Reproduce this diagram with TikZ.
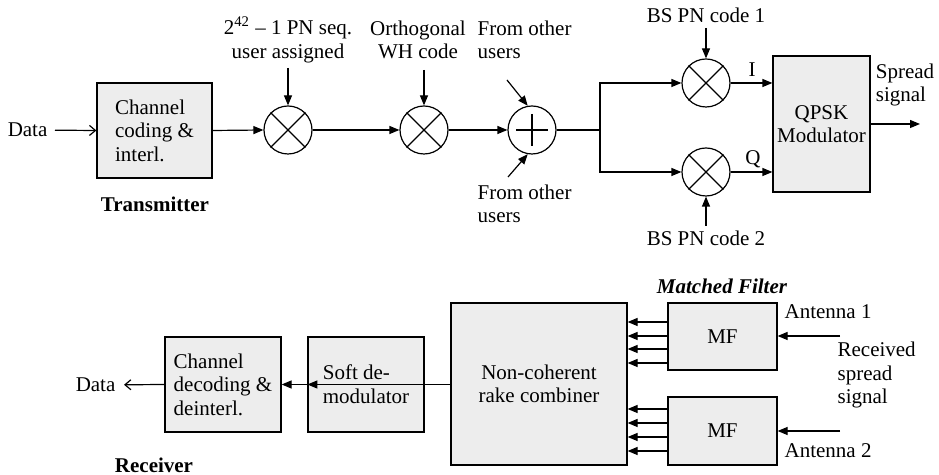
\documentclass[tikz,border=0pt]{standalone}
\usepackage{fontspec}
\setmainfont{Liberation Serif}
\usetikzlibrary{
		calc,
		positioning,
		arrows.meta
	}
\tikzset{
		>={Triangle[length=5pt,width=4pt]},
		blk/.style={draw, fill=black!7, inner sep=0pt, align=left},
		mix/.style={draw, circle, fill=white, inner sep=0pt, minimum size=24pt},
		lbl/.style={inner sep=0pt, align=left},
		opn/.style={-{Straight Barb[length=3pt,width=5pt]}}
	}
\newcommand{\lfont}{\fontsize{10.5pt}{11.8pt}\selectfont}

\begin{document}
\begin{tikzpicture}[x=0.5pt, y=-0.5pt, line width=0.6pt, font=\lfont]
		\useasboundingbox (0,0) rectangle (939,475);
		% transmitter
		\node[blk, minimum width=57.5pt, minimum height=47.5pt] (cc) at (154.5,130.5) {Channel\\coding \&\\interl.};
		\node[lbl, anchor=east, inner xsep=3.5pt] (din) at (55,130) {Data};
		\node[lbl, font=\lfont\bfseries] (tx) at (155,204) {Transmitter};
		\node[mix] (m1) at (288,130) {};
		\node[mix] (m2) at (424,130) {};
		\node[mix] (add) at (532,130) {};
		\node[mix] (mI) at (706,83) {};
		\node[mix] (mQ) at (706,172) {};
		\node[blk, align=center, minimum width=48.5pt, minimum height=68pt] (qpsk) at (821.5,124) {QPSK\\Modulator};
		\draw (m1.north west) -- (m1.south east) (m1.north east) -- (m1.south west)
			  (m2.north west) -- (m2.south east) (m2.north east) -- (m2.south west)
			  (mI.north west) -- (mI.south east) (mI.north east) -- (mI.south west)
			  (mQ.north west) -- (mQ.south east) (mQ.north east) -- (mQ.south west);
		\draw ($(add)+(-16,0)$) -- ($(add)+(16,0)$) ($(add)+(0,-16)$) -- ($(add)+(0,16)$);
		\node[lbl, align=center] (pn) at (288,40) {2\textsuperscript{42} -- 1 PN seq.\\user assigned};
		\node[lbl, align=center] (wh) at (418,40) {Orthogonal\\WH code};
		\node[lbl, anchor=west] (ou1) at (477,40) {From other\\users};
		\node[lbl, anchor=west] (ou2) at (477,204) {From other\\users};
		\node[lbl] (bs1) at (706,15) {BS PN code 1};
		\node[lbl] (bs2) at (706,238) {BS PN code 2};
		\node[lbl] (li) at (752,70) {I};
		\node[lbl] (lq) at (753,159) {Q};
		\node[lbl] (sp) at (905,85) {Spread\\signal};
		\coordinate (c1) at (288,68);
		\coordinate (c2) at (424,70);
		\coordinate (c3) at (507,80);
		\coordinate (c4) at (508,177);
		\coordinate (c5) at (706,28);
		\coordinate (c6) at (706,226);
		\coordinate (j) at (600,130);
		\coordinate (out) at (920,124);
		\draw[opn] (din) -- (cc.west);
		\draw[->] (cc.east) -- (m1.west);
		\draw[->] (m1.east) -- (m2.west);
		\draw[->] (m2.east) -- (add.west);
		\draw[->] (c1) -- (m1.north);
		\draw[->] (c2) -- (m2.north);
		\draw[->] (c3) -- (add.100);
		\draw[->] (c4) -- (add.-100);
		\draw (add.east) -- (j);
		\draw[->] (j) |- (mI.west);
		\draw[->] (j) |- (mQ.west);
		\draw[->] (c5) -- (mI.north);
		\draw[->] (c6) -- (mQ.south);
		\draw[->] (mI.east) -- (mI.east -| qpsk.west);
		\draw[->] (mQ.east) -- (mQ.east -| qpsk.west);
		\draw[->] (qpsk.east) -- (out);
		% receiver
		\node[blk, minimum width=58pt, minimum height=47.5pt] (dec) at (223,384.5) {Channel\\decoding \&\\deinterl.};
		\node[blk, minimum width=58pt, minimum height=47.5pt] (soft) at (366,384.5) {Soft de-\\modulator};
		\node[blk, align=center, minimum width=88pt, minimum height=81pt] (rake) at (539,384) {Non-coherent\\rake combiner};
		\node[blk, align=center, minimum width=54.5pt, minimum height=33.5pt] (mf1) at (722.5,336.5) {MF};
		\node[blk, align=center, minimum width=54.5pt, minimum height=34pt] (mf2) at (722.5,431) {MF};
		\node[lbl, anchor=east, inner xsep=4pt] (dout) at (124,385) {Data};
		\node[lbl, font=\lfont\bfseries] (rx) at (154,465) {Receiver};
		\node[lbl, font=\lfont\bfseries\itshape] (mft) at (722,286) {Matched Filter};
		\node[lbl, anchor=west] (ant1) at (784,312) {Antenna 1};
		\node[lbl, anchor=west] (ant2) at (784,451) {Antenna 2};
		\node[lbl, anchor=west] (rss) at (837,375) {Received\\spread\\signal};
		\coordinate (r1) at (840,336);
		\coordinate (r2) at (840,431);
		\draw[opn] (dec.west) -- (dout);
		\draw[->] (soft.west) -- (dec.east);
		\draw[->] (rake.west |- soft.west) -- (soft.west);
		\foreach \y in {322,336,349,363}
			\draw[->] (mf1.west |- 0,\y) -- (rake.east |- 0,\y);
		\foreach \y in {409,423,437,451}
			\draw[->] (mf2.west |- 0,\y) -- (rake.east |- 0,\y);
		\draw[->] (r1) -- (mf1.east |- r1);
		\draw[->] (r2) -- (mf2.east |- r2);
	\end{tikzpicture}
\end{document}
